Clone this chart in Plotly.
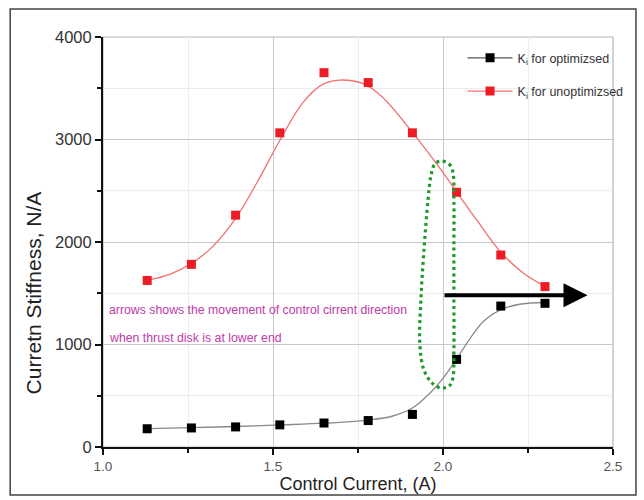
import plotly.graph_objects as go

# Control current (A) at which the stiffness was measured
current = [1.13, 1.26, 1.39, 1.52, 1.65, 1.78, 1.91, 2.04, 2.17, 2.30]
# Current stiffness (N/A)
k_optimized = [178, 186, 196, 216, 234, 258, 318, 855, 1375, 1402]
k_unoptimized = [1625, 1782, 2262, 3065, 3652, 3555, 3065, 2485, 1873, 1565]

# Fitted curves
fit_x_unopt = [1.13, 1.20, 1.26, 1.324, 1.39, 1.453, 1.52, 1.588, 1.647, 1.697,
               1.765, 1.82, 1.91, 1.982, 2.04, 2.10, 2.17, 2.235, 2.30]
fit_unopt = [1625, 1690, 1790, 1960, 2230, 2580, 2990, 3360, 3540, 3580,
             3545, 3420, 3070, 2760, 2490, 2210, 1900, 1700, 1565]
fit_x_opt = [1.13, 1.26, 1.39, 1.52, 1.65, 1.78, 1.85, 1.91, 1.96, 2.00, 2.04,
             2.08, 2.12, 2.17, 2.23, 2.30]
fit_opt = [180, 190, 200, 215, 232, 263, 300, 380, 520, 670, 860,
           1060, 1230, 1340, 1395, 1410]

# Green dotted outline around the transition region
loop_x = [1.994, 2.018, 2.029, 2.032, 2.032, 2.032, 2.032, 2.029, 2.018, 1.994,
          1.968, 1.944, 1.932, 1.935, 1.944, 1.956, 1.965, 1.976, 1.994]
loop_y = [2790, 2761, 2683, 2410, 1922, 1434, 946, 673, 595, 576,
          624, 751, 995, 1434, 1922, 2410, 2654, 2761, 2790]

# Direction arrow
arrow_x = [2.0, 2.425]
arrow_y = 1480

note_lines = ["arrows shows the movement of control cirrent direction",
              "when thrust disk is at lower end"]
note_y = [1337, 1063]

RED = "#ec1c24"
FONT = "Liberation Sans, Arial, sans-serif"

fig = go.Figure()

fig.add_trace(go.Scatter(x=fit_x_opt, y=fit_opt, mode="lines", line_shape="spline",
                         line=dict(color="#8a8a8a", width=1.3, smoothing=1.0),
                         showlegend=False, hoverinfo="skip"))
fig.add_trace(go.Scatter(x=fit_x_unopt, y=fit_unopt, mode="lines", line_shape="spline",
                         line=dict(color="#f27070", width=1.3, smoothing=1.0),
                         showlegend=False, hoverinfo="skip"))
fig.add_trace(go.Scatter(x=current, y=k_optimized, mode="markers",
                         marker=dict(symbol="square", size=9, color="black"),
                         showlegend=False))
fig.add_trace(go.Scatter(x=current, y=k_unoptimized, mode="markers",
                         marker=dict(symbol="square", size=9, color=RED),
                         showlegend=False))
fig.add_trace(go.Scatter(x=loop_x, y=loop_y, mode="lines", line_shape="spline",
                         line=dict(color="#1e9a2a", width=3.2, dash="3px,3.5px"),
                         showlegend=False, hoverinfo="skip"))

# legend entries
fig.add_trace(go.Scatter(x=[None], y=[None], mode="lines+markers",
                         name="K<sub>i</sub> for optimizsed", legendgroup="a",
                         line=dict(color="#555555", width=1.3),
                         marker=dict(symbol="square", size=9, color="black")))
fig.add_trace(go.Scatter(x=[None], y=[None], mode="lines+markers",
                         name="K<sub>i</sub> for unoptimizsed", legendgroup="b",
                         line=dict(color="#f27070", width=1.3),
                         marker=dict(symbol="square", size=9, color=RED)))

annotations = [
    dict(x=arrow_x[1], y=arrow_y, ax=arrow_x[0], ay=arrow_y, xref="x", yref="y",
         axref="x", ayref="y", showarrow=True, arrowhead=2, arrowsize=1.2,
         arrowwidth=4, arrowcolor="black", text=""),
    dict(text="Curretn Stiffness, N/A", xref="paper", yref="paper",
         x=-0.137, y=0.375, xanchor="center", yanchor="middle", textangle=-90,
         showarrow=False, font=dict(family=FONT, size=21, color="#222222")),
]
for txt, yy in zip(note_lines, note_y):
    annotations.append(dict(text=txt, x=1.012, y=yy, xref="x", yref="y",
                            xanchor="left", yanchor="middle", showarrow=False,
                            font=dict(family=FONT, size=12.3, color="#c03aa8")))

shapes = [
    # plot box (top and right edges)
    dict(type="rect", xref="paper", yref="paper", x0=0, x1=1, y0=0, y1=1,
         line=dict(color="#b5b5b5", width=1.2), layer="below"),
    # outer frame
    dict(type="rect", xref="paper", yref="paper", x0=-0.182, x1=1.045,
         y0=-0.117, y1=1.068, line=dict(color="#444444", width=1.5), layer="below"),
]

fig.update_layout(
    width=644, height=500,
    margin=dict(l=103, r=31, t=37, b=53),
    paper_bgcolor="white", plot_bgcolor="white",
    font=dict(family=FONT, size=13, color="#333333"),
    showlegend=True,
    legend=dict(x=0.705, y=0.985, xanchor="left", yanchor="top",
                bgcolor="rgba(0,0,0,0)", borderwidth=0, tracegroupgap=14,
                itemwidth=45,
                font=dict(family=FONT, size=12.5, color="#333333")),
    annotations=annotations,
    shapes=shapes,
)

fig.update_xaxes(
    range=[1.0, 2.5], tickvals=[1.0, 1.5, 2.0, 2.5], tickformat=".1f",
    showline=True, linecolor="#111111", linewidth=2,
    ticks="outside", ticklen=6, tickwidth=1.5, tickcolor="#111111",
    showgrid=True, gridcolor="#c8c8c8", gridwidth=1,
    minor=dict(dtick=0.25, tick0=1.0, ticks="outside", ticklen=4, tickwidth=1.5,
               tickcolor="#111111", showgrid=True, gridcolor="#ececec", gridwidth=1),
    title=dict(text="Control Current, (A)", standoff=0,
               font=dict(family=FONT, size=18, color="#222222")),
    tickfont=dict(size=13.5, color="#555555"),
    zeroline=False,
)
fig.update_yaxes(
    range=[0, 4000], tickvals=[0, 1000, 2000, 3000, 4000],
    showline=True, linecolor="#111111", linewidth=2,
    ticks="outside", ticklen=6, tickwidth=1.5, tickcolor="#111111",
    showgrid=True, gridcolor="#c8c8c8", gridwidth=1,
    minor=dict(dtick=500, tick0=0, ticks="outside", ticklen=4, tickwidth=1.5,
               tickcolor="#111111", showgrid=True, gridcolor="#ececec", gridwidth=1),
    tickfont=dict(size=16.5, color="#333333"),
    zeroline=False,
)

fig.write_html("out.html")
